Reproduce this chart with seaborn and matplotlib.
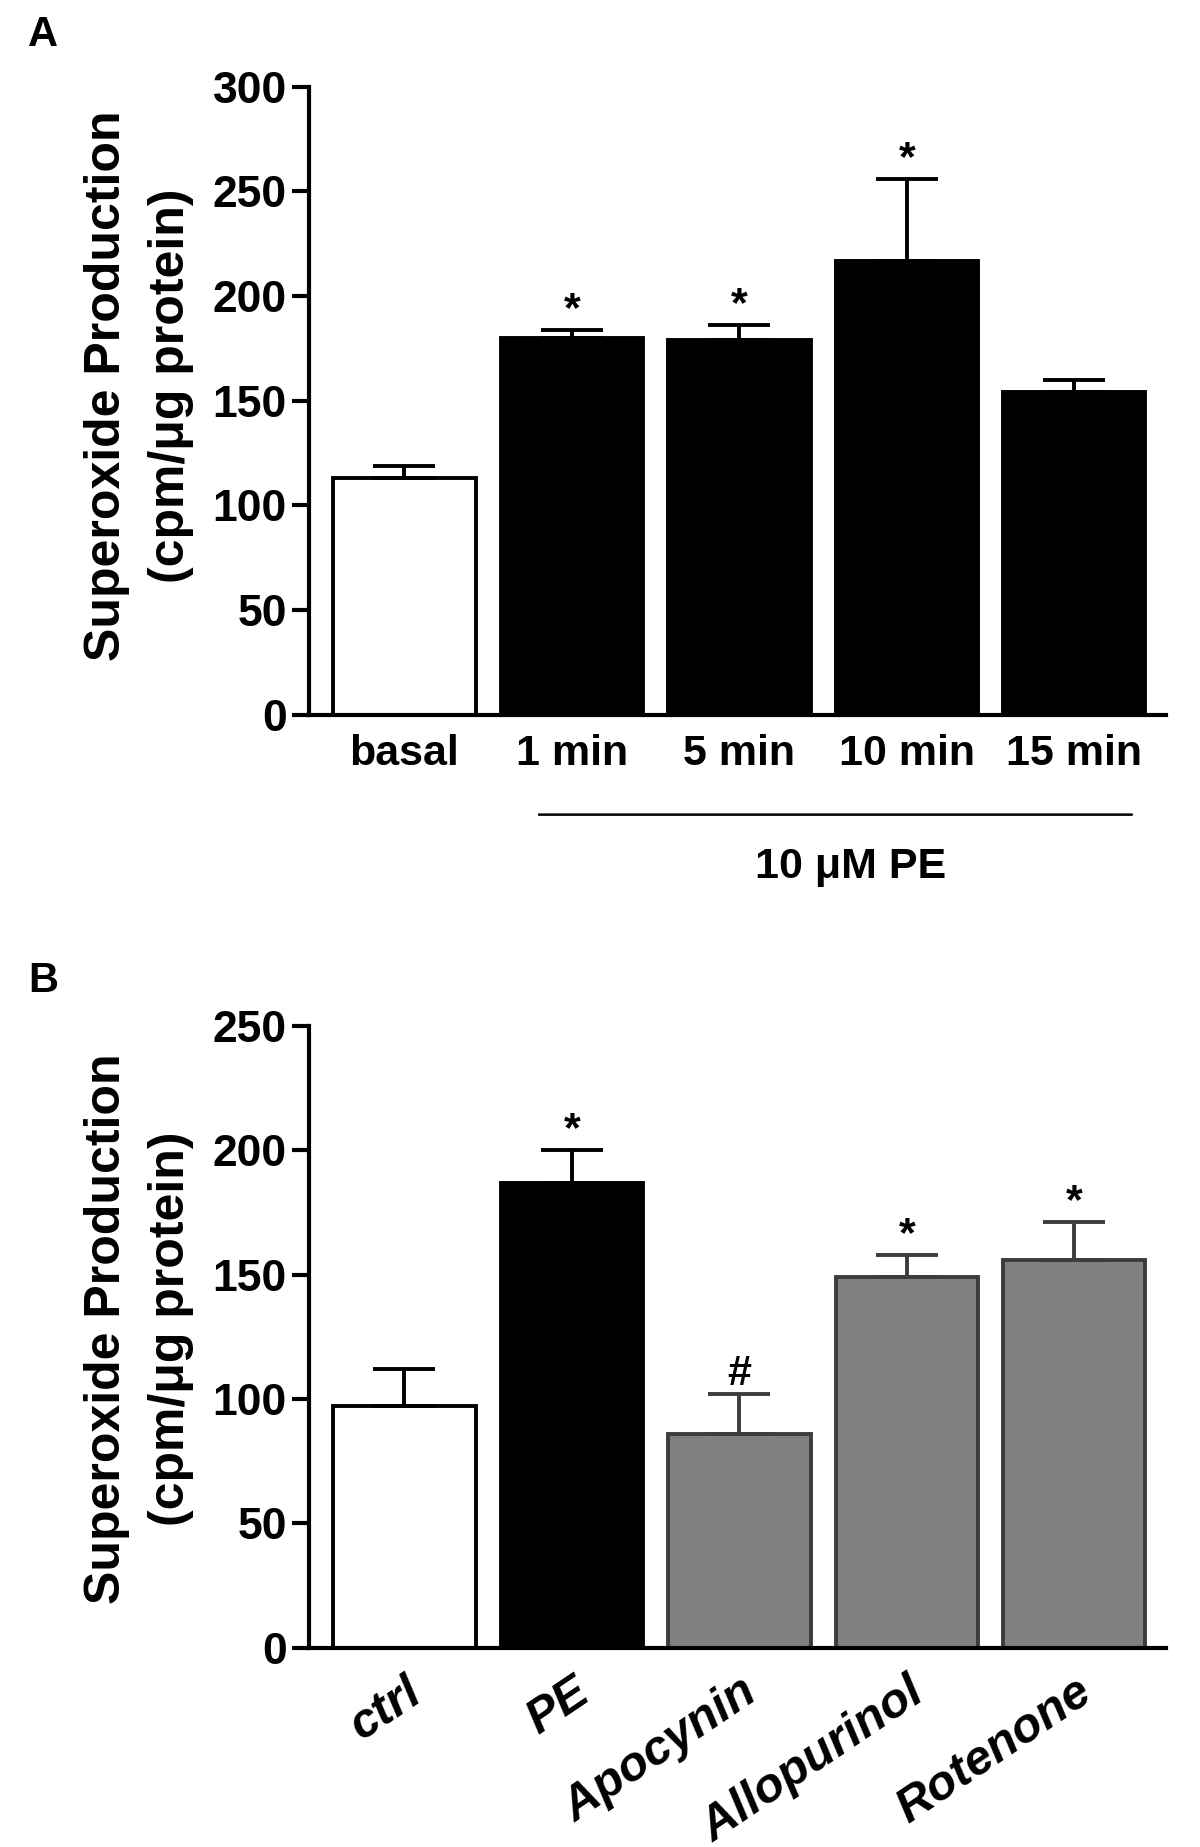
import numpy as np
import pandas as pd
import matplotlib
matplotlib.use("Agg")
import matplotlib.pyplot as plt
import seaborn as sns

# panel A data
a_labels = ["basal", "1 min", "5 min", "10 min", "15 min"]
a_means = [113, 180, 179, 217, 154]
a_sem = [6, 4, 7, 39, 6]
a_marks = ["", "*", "*", "*", ""]
a_ticks = [0, 50, 100, 150, 200, 250, 300]

# panel B data
b_labels = ["ctrl", "PE", "Apocynin", "Allopurinol", "Rotenone"]
b_means = [97, 187, 86, 149, 156]
b_sem = [15, 13, 16, 9, 15]
b_marks = ["", "*", "#", "*", "*"]
b_ticks = [0, 50, 100, 150, 200, 250]

sns.set_theme(style="ticks")
FONT = ["Liberation Sans", "DejaVu Sans"]
plt.rcParams["font.family"] = FONT
plt.rcParams["font.weight"] = "bold"
for k in ["text.color", "axes.labelcolor", "xtick.color", "ytick.color"]:
    plt.rcParams[k] = "black"

fig = plt.figure(figsize=(12, 18.47), dpi=100)
axA = fig.add_axes([0.2575, 0.613, 0.7145, 0.340])
axB = fig.add_axes([0.2575, 0.108, 0.7145, 0.3365])


def draw_panel(ax, labels, means, sem, colors, edges, ymax, ticks, marks, ylab_y):
    df = pd.DataFrame({"cond": labels, "val": means})
    sns.barplot(data=df, x="cond", y="val", hue="cond", palette=colors,
                legend=False, width=0.85, ax=ax, errorbar=None,
                linewidth=2.8)
    for bar, ec in zip(ax.patches, edges):
        bar.set_edgecolor(ec)
    x = np.arange(len(labels))
    for xi, m, s, ec in zip(x, means, sem, edges):
        ax.errorbar(xi, m, yerr=[[0], [s]], fmt="none", ecolor=ec,
                    elinewidth=2.8, capsize=22, capthick=2.8, zorder=1)
    for xi, m, s, t in zip(x, means, sem, marks):
        if t:
            ax.text(xi, m + s, t, ha="center", va="bottom",
                    fontsize=31, fontweight="bold")
    ax.set_ylim(0, ymax)
    ax.set_xlim(-0.57, 4.55)
    ax.set_yticks(ticks)
    ax.set_ylabel("Superoxide Production\n(cpm/\u03bcg protein)",
                  fontsize=36, fontweight="bold", linespacing=1.5)
    ax.yaxis.set_label_coords(-0.134, ylab_y)
    ax.set_xlabel("")
    sns.despine(ax=ax)
    for sp in ["left", "bottom"]:
        ax.spines[sp].set_linewidth(3)
        ax.spines[sp].set_color("black")
    ax.tick_params(axis="y", width=3, length=12, labelsize=32, pad=4)
    ax.tick_params(axis="x", length=0, labelsize=31, pad=14)
    for lab in ax.get_yticklabels():
        lab.set_fontweight("bold")


draw_panel(axA, a_labels, a_means, a_sem,
           ["white", "black", "black", "black", "black"],
           ["black"] * 5, 300, a_ticks, a_marks, 0.524)
draw_panel(axB, b_labels, b_means, b_sem,
           ["white", "black", "#808080", "#808080", "#808080"],
           ["black", "black", "#3c3c3c", "#3c3c3c", "#3c3c3c"],
           250, b_ticks, b_marks, 0.513)

for lab in axA.get_xticklabels():
    lab.set_fontweight("bold")

axB.set_xticks(range(len(b_labels)))
axB.set_xticklabels(b_labels, rotation=34, ha="right", rotation_mode="anchor",
                    fontstyle="italic", fontweight="bold", fontsize=35)
axB.tick_params(axis="x", pad=16)

# bracket under the PE time points
axA.annotate("", xy=(0.265, -0.159), xytext=(0.963, -0.159),
             xycoords="axes fraction",
             arrowprops=dict(arrowstyle="-", lw=1.8, color="black"),
             annotation_clip=False)
axA.text(0.632, -0.243, "10 \u03bcM PE", transform=axA.transAxes,
         ha="center", va="center", fontsize=31, fontweight="bold")

fig.text(0.036, 0.981, "A", fontsize=30, fontweight="bold",
         ha="center", va="center")
fig.text(0.036, 0.469, "B", fontsize=30, fontweight="bold",
         ha="center", va="center")

fig.savefig("out.png", dpi=100, facecolor="white")
